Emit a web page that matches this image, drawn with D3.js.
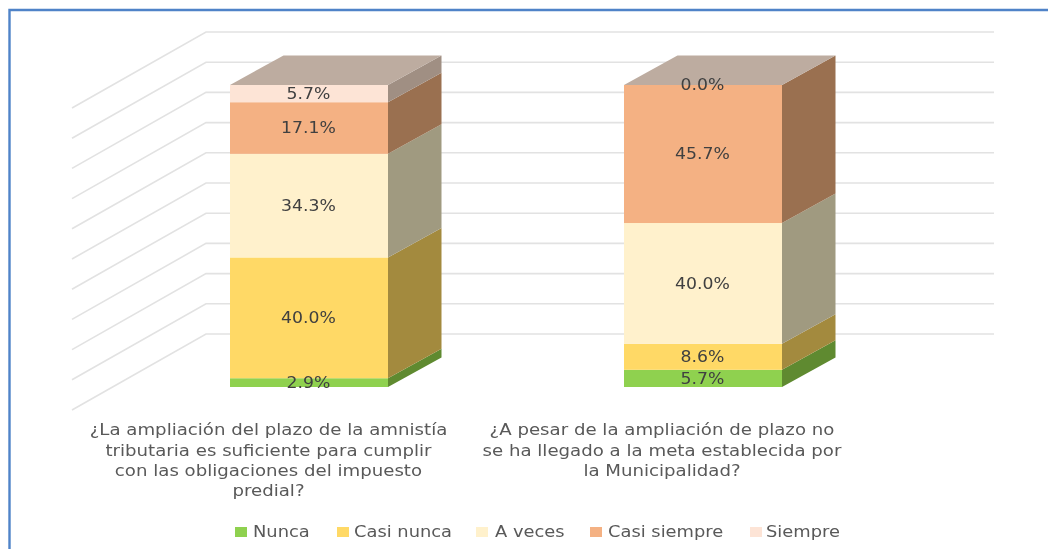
<!DOCTYPE html>
<html>
<head>
<meta charset="utf-8">
<script src="https://cdnjs.cloudflare.com/ajax/libs/d3/7.8.5/d3.min.js"></script>
<style>
html,body{margin:0;padding:0;background:#fff;overflow:hidden}
svg{display:block;filter:blur(0.55px)}
text{font-family:"DejaVu Sans",sans-serif}
</style>
</head>
<body>
<svg id="c" width="1048" height="549"></svg>
<script>
const seriesNames = ["Nunca","Casi nunca","A veces","Casi siempre","Siempre"];
const q1Values = [2.9,40.0,34.3,17.1,5.7];
const q2Values = [5.7,8.6,40.0,45.7,0.0];
const categoryKeys = ["q1","q2"];
const categoryLines = [
  ["¿La ampliación del plazo de la amnistía","tributaria es suficiente para cumplir","con las obligaciones del impuesto","predial?"],
  ["¿A pesar de la ampliación de plazo no","se ha llegado a la meta establecida por","la Municipalidad?"]
];
const frontColors = ["#8fd14f","#ffd966","#fff1cc","#f4b183","#fde4d6"];
const sideColors  = ["#5f8a30","#a38a3e","#a09a80","#9a7050","#a08f83"];
const topColor = "#bdaca0";
const gridTicks = d3.range(0,101,10);
const legendX = [235,337,476,590,750];
const legendTextX = [253,354,495,608,766];

// stretch a text selection horizontally, as the wide reference lettering is
function widen(sel, k){
  sel.each(function(){
    this.setAttribute("lengthAdjust","spacingAndGlyphs");
    this.setAttribute("textLength", this.getComputedTextLength()*k);
  });
}

const svg = d3.select("#c");
// frame
svg.append("path").attr("d","M1048,10H9.5V549").attr("fill","none").attr("stroke","#4f83c8").attr("stroke-width",2.4);

const yFront = d3.scaleLinear().domain([0,100]).range([387,85]);
const yBack  = d3.scaleLinear().domain([0,100]).range([334,32]);
const barW = 158, depthX = 53.5, depthY = 29.5;

// grid
svg.append("g").attr("fill","none").selectAll("path").data(gridTicks).join("path")
  .attr("d",d=>`M72,${yBack(d)+76}L206,${yBack(d)}H994`)
  .attr("stroke","#e2e2e2").attr("stroke-width",1.6);

// stack
const rows = categoryKeys.map((k,i)=>{
  const r={key:k};
  seriesNames.forEach((s,j)=>r[s]=(i===0?q1Values:q2Values)[j]);
  return r;
});
const stacked = d3.stack().keys(seriesNames)(rows);
const barLeft = k => k==="q1"?230:624;

const bars = svg.append("g");
categoryKeys.forEach((k,ci)=>{
  const L = barLeft(k), R = L+barW;
  const b = bars.append("g");
  const segs = stacked.map((s,si)=>({y0:s[ci][0],y1:s[ci][1],si,v:s[ci].data[seriesNames[si]]}));
  b.selectAll("path.side").data(segs).join("path").attr("class","side")
    .attr("fill",d=>sideColors[d.si])
    .attr("d",d=>`M${R},${yFront(d.y0)}L${R+depthX},${yFront(d.y0)-depthY}V${yFront(d.y1)-depthY}L${R},${yFront(d.y1)}Z`);
  b.selectAll("rect.front").data(segs).join("rect").attr("class","front")
    .attr("x",L).attr("width",barW)
    .attr("y",d=>yFront(d.y1)).attr("height",d=>yFront(d.y0)-yFront(d.y1))
    .attr("fill",d=>frontColors[d.si]);
  const t = yFront(100);
  b.append("path").attr("fill",topColor)
    .attr("d",`M${L},${t}L${L+depthX},${t-depthY}H${R+depthX}L${R},${t}Z`);
  b.selectAll("text.val").data(segs).join("text").attr("class","val")
    .attr("x",L+barW/2-0.5).attr("y",d=>yFront((d.y0+d.y1)/2))
    .attr("dy","0.36em").attr("text-anchor","middle")
    .attr("font-size",15).attr("fill","#404040")
    .text(d=>d.v.toFixed(1)+"%")
    .call(widen,1.15);
});

// category labels
const catCx = [268.5,662];
const lineY = [435,456,475.5,496];
categoryLines.forEach((lines,i)=>{
  svg.append("g").selectAll("text").data(lines).join("text")
    .attr("x",catCx[i]).attr("y",(d,j)=>lineY[j])
    .attr("text-anchor","middle").attr("font-size",15).attr("fill","#595959")
    .text(d=>d)
    .call(widen,1.21);
});

// legend
const leg = svg.append("g").selectAll("g").data(seriesNames).join("g");
leg.append("rect").attr("x",(d,i)=>legendX[i]).attr("y",527).attr("width",12).attr("height",10)
  .attr("fill",(d,i)=>frontColors[i]);
leg.append("text").attr("x",(d,i)=>legendTextX[i]).attr("y",537)
  .attr("font-size",15).attr("fill","#595959").text(d=>d)
  .call(widen,1.19);
</script>
</body>
</html>
